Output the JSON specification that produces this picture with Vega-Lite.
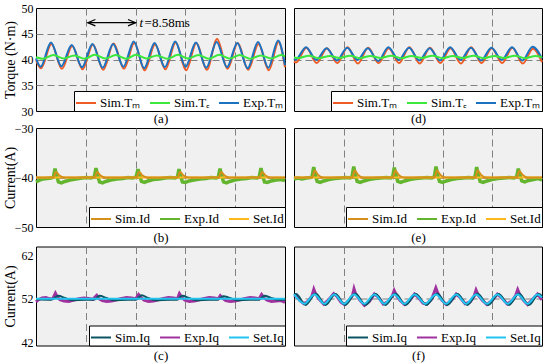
{
"$schema": "https://vega.github.io/schema/vega-lite/v6.json",
"background": "white",
"padding": {"left": 2, "top": 1, "right": 2, "bottom": 0},
"config": {
 "font": "Liberation Serif",
 "view": {"fill": "#f0f0f0", "stroke": "#000", "strokeWidth": 1},
 "axis": {"labelFont": "Liberation Serif", "labelFontSize": 12, "labelColor": "#000", "titleFont": "Liberation Serif", "titleFontWeight": "normal", "titleColor": "#000", "gridColor": "#808080", "gridDash": [7, 4], "gridWidth": 1, "gridOpacity": 1, "domain": false, "ticks": false, "labelPadding": 3},
 "legend": {"orient": "bottom-right", "direction": "horizontal", "offset": 0, "padding": 1, "strokeColor": "#000", "strokeWidth": 1, "fillColor": "white", "symbolType": "stroke", "symbolSize": 400, "symbolStrokeWidth": 2, "labelFont": "Liberation Serif", "labelFontSize": 13, "labelColor": "#000", "labelOffset": 3, "columnPadding": 5, "rowPadding": 0, "title": null}
},
"datasets": {
 "a": [
  {"s":"Sim.Tₘ","x":0,"y":39.9},{"s":"Sim.Tₘ","x":0.1,"y":38.3},{"s":"Sim.Tₘ","x":0.31,"y":43.0},{"s":"Sim.Tₘ","x":0.52,"y":38.2},{"s":"Sim.Tₘ","x":0.727,"y":42.6},{"s":"Sim.Tₘ","x":0.935,"y":38.1},{"s":"Sim.Tₘ","x":1.143,"y":42.9},{"s":"Sim.Tₘ","x":1.35,"y":38.0},{"s":"Sim.Tₘ","x":1.558,"y":43.1},{"s":"Sim.Tₘ","x":1.766,"y":38.2},{"s":"Sim.Tₘ","x":1.974,"y":43.2},{"s":"Sim.Tₘ","x":2.182,"y":37.9},{"s":"Sim.Tₘ","x":2.39,"y":42.9},{"s":"Sim.Tₘ","x":2.598,"y":38.1},{"s":"Sim.Tₘ","x":2.805,"y":43.3},{"s":"Sim.Tₘ","x":3.013,"y":37.9},{"s":"Sim.Tₘ","x":3.221,"y":43.2},{"s":"Sim.Tₘ","x":3.429,"y":38.0},{"s":"Sim.Tₘ","x":3.637,"y":44.0},{"s":"Sim.Tₘ","x":3.845,"y":38.2},{"s":"Sim.Tₘ","x":4.052,"y":43.2},{"s":"Sim.Tₘ","x":4.26,"y":38.0},{"s":"Sim.Tₘ","x":4.468,"y":43.0},{"s":"Sim.Tₘ","x":4.676,"y":37.9},{"s":"Sim.Tₘ","x":4.87,"y":43.4},{"s":"Sim.Tₘ","x":5.0,"y":38.5},
  {"s":"Exp.Tₘ","x":0,"y":40.2},{"s":"Exp.Tₘ","x":0.093,"y":38.6},{"s":"Exp.Tₘ","x":0.301,"y":43.3},{"s":"Exp.Tₘ","x":0.509,"y":38.7},{"s":"Exp.Tₘ","x":0.717,"y":42.8},{"s":"Exp.Tₘ","x":0.925,"y":38.5},{"s":"Exp.Tₘ","x":1.133,"y":43.0},{"s":"Exp.Tₘ","x":1.34,"y":38.4},{"s":"Exp.Tₘ","x":1.548,"y":43.0},{"s":"Exp.Tₘ","x":1.756,"y":38.6},{"s":"Exp.Tₘ","x":1.964,"y":43.5},{"s":"Exp.Tₘ","x":2.172,"y":38.3},{"s":"Exp.Tₘ","x":2.38,"y":43.2},{"s":"Exp.Tₘ","x":2.588,"y":38.5},{"s":"Exp.Tₘ","x":2.795,"y":43.5},{"s":"Exp.Tₘ","x":3.003,"y":38.6},{"s":"Exp.Tₘ","x":3.211,"y":43.3},{"s":"Exp.Tₘ","x":3.419,"y":38.4},{"s":"Exp.Tₘ","x":3.627,"y":43.4},{"s":"Exp.Tₘ","x":3.835,"y":38.5},{"s":"Exp.Tₘ","x":4.042,"y":43.2},{"s":"Exp.Tₘ","x":4.25,"y":38.3},{"s":"Exp.Tₘ","x":4.458,"y":43.4},{"s":"Exp.Tₘ","x":4.666,"y":38.4},{"s":"Exp.Tₘ","x":4.86,"y":43.7},{"s":"Exp.Tₘ","x":5.0,"y":38.9},
  {"s":"Sim.Tₑ","x":0,"y":40.45},{"s":"Sim.Tₑ","x":0.14,"y":40.15},{"s":"Sim.Tₑ","x":0.35,"y":40.85},{"s":"Sim.Tₑ","x":0.56,"y":40.2},{"s":"Sim.Tₑ","x":0.77,"y":40.8},{"s":"Sim.Tₑ","x":0.975,"y":40.15},{"s":"Sim.Tₑ","x":1.18,"y":40.9},{"s":"Sim.Tₑ","x":1.39,"y":40.2},{"s":"Sim.Tₑ","x":1.6,"y":40.85},{"s":"Sim.Tₑ","x":1.81,"y":40.15},{"s":"Sim.Tₑ","x":2.01,"y":40.9},{"s":"Sim.Tₑ","x":2.22,"y":40.2},{"s":"Sim.Tₑ","x":2.43,"y":40.8},{"s":"Sim.Tₑ","x":2.64,"y":40.15},{"s":"Sim.Tₑ","x":2.85,"y":40.9},{"s":"Sim.Tₑ","x":3.05,"y":40.2},{"s":"Sim.Tₑ","x":3.26,"y":40.85},{"s":"Sim.Tₑ","x":3.47,"y":40.15},{"s":"Sim.Tₑ","x":3.68,"y":40.9},{"s":"Sim.Tₑ","x":3.885,"y":40.2},{"s":"Sim.Tₑ","x":4.09,"y":40.85},{"s":"Sim.Tₑ","x":4.3,"y":40.15},{"s":"Sim.Tₑ","x":4.51,"y":40.8},{"s":"Sim.Tₑ","x":4.72,"y":40.2},{"s":"Sim.Tₑ","x":4.92,"y":40.85},{"s":"Sim.Tₑ","x":5.0,"y":40.6}
 ],
 "ann": [
  {"k":"rule","x":1.04,"x2":2.0,"y":47.15},
  {"k":"L","x":1.04,"y":47.15},
  {"k":"R","x":2.0,"y":47.15},
  {"k":"t","x":2.08,"y":47.15,"txt":"t"},
  {"k":"v","x":2.18,"y":47.15,"txt":"=8.58ms"}
 ],
 "d": [
  {"s":"Sim.Tₘ","x":0,"y":39.6},{"s":"Sim.Tₘ","x":0.04,"y":39.4},{"s":"Sim.Tₘ","x":0.25,"y":42.3},{"s":"Sim.Tₘ","x":0.457,"y":39.3},{"s":"Sim.Tₘ","x":0.665,"y":42.2},{"s":"Sim.Tₘ","x":0.873,"y":39.3},{"s":"Sim.Tₘ","x":1.081,"y":42.4},{"s":"Sim.Tₘ","x":1.288,"y":39.2},{"s":"Sim.Tₘ","x":1.496,"y":42.3},{"s":"Sim.Tₘ","x":1.704,"y":39.3},{"s":"Sim.Tₘ","x":1.911,"y":42.2},{"s":"Sim.Tₘ","x":2.119,"y":39.3},{"s":"Sim.Tₘ","x":2.327,"y":42.4},{"s":"Sim.Tₘ","x":2.534,"y":39.2},{"s":"Sim.Tₘ","x":2.742,"y":42.3},{"s":"Sim.Tₘ","x":2.95,"y":39.3},{"s":"Sim.Tₘ","x":3.157,"y":42.2},{"s":"Sim.Tₘ","x":3.365,"y":39.2},{"s":"Sim.Tₘ","x":3.573,"y":42.4},{"s":"Sim.Tₘ","x":3.78,"y":39.3},{"s":"Sim.Tₘ","x":3.988,"y":42.2},{"s":"Sim.Tₘ","x":4.196,"y":39.3},{"s":"Sim.Tₘ","x":4.403,"y":42.3},{"s":"Sim.Tₘ","x":4.611,"y":39.2},{"s":"Sim.Tₘ","x":4.818,"y":42.1},{"s":"Sim.Tₘ","x":5.0,"y":39.5},
  {"s":"Exp.Tₘ","x":0,"y":40.2},{"s":"Exp.Tₘ","x":0.034,"y":40.0},{"s":"Exp.Tₘ","x":0.242,"y":42.4},{"s":"Exp.Tₘ","x":0.449,"y":39.9},{"s":"Exp.Tₘ","x":0.657,"y":42.2},{"s":"Exp.Tₘ","x":0.865,"y":39.8},{"s":"Exp.Tₘ","x":1.073,"y":42.3},{"s":"Exp.Tₘ","x":1.28,"y":39.9},{"s":"Exp.Tₘ","x":1.488,"y":42.2},{"s":"Exp.Tₘ","x":1.696,"y":39.7},{"s":"Exp.Tₘ","x":1.903,"y":42.4},{"s":"Exp.Tₘ","x":2.111,"y":39.9},{"s":"Exp.Tₘ","x":2.319,"y":42.3},{"s":"Exp.Tₘ","x":2.526,"y":39.8},{"s":"Exp.Tₘ","x":2.734,"y":42.2},{"s":"Exp.Tₘ","x":2.942,"y":39.8},{"s":"Exp.Tₘ","x":3.149,"y":42.4},{"s":"Exp.Tₘ","x":3.357,"y":39.9},{"s":"Exp.Tₘ","x":3.565,"y":42.3},{"s":"Exp.Tₘ","x":3.772,"y":39.8},{"s":"Exp.Tₘ","x":3.98,"y":42.3},{"s":"Exp.Tₘ","x":4.188,"y":39.9},{"s":"Exp.Tₘ","x":4.395,"y":42.4},{"s":"Exp.Tₘ","x":4.603,"y":39.8},{"s":"Exp.Tₘ","x":4.81,"y":42.5},{"s":"Exp.Tₘ","x":5.0,"y":40.2},
  {"s":"Sim.Tₑ","x":0,"y":40.4},{"s":"Sim.Tₑ","x":0.1,"y":40.3},{"s":"Sim.Tₑ","x":0.3,"y":40.75},{"s":"Sim.Tₑ","x":0.5,"y":40.25},{"s":"Sim.Tₑ","x":0.72,"y":40.7},{"s":"Sim.Tₑ","x":0.92,"y":40.3},{"s":"Sim.Tₑ","x":1.13,"y":40.75},{"s":"Sim.Tₑ","x":1.33,"y":40.25},{"s":"Sim.Tₑ","x":1.54,"y":40.7},{"s":"Sim.Tₑ","x":1.75,"y":40.3},{"s":"Sim.Tₑ","x":1.96,"y":40.75},{"s":"Sim.Tₑ","x":2.17,"y":40.25},{"s":"Sim.Tₑ","x":2.37,"y":40.7},{"s":"Sim.Tₑ","x":2.58,"y":40.3},{"s":"Sim.Tₑ","x":2.79,"y":40.75},{"s":"Sim.Tₑ","x":3.0,"y":40.25},{"s":"Sim.Tₑ","x":3.2,"y":40.7},{"s":"Sim.Tₑ","x":3.41,"y":40.3},{"s":"Sim.Tₑ","x":3.62,"y":40.75},{"s":"Sim.Tₑ","x":3.83,"y":40.25},{"s":"Sim.Tₑ","x":4.04,"y":40.7},{"s":"Sim.Tₑ","x":4.24,"y":40.3},{"s":"Sim.Tₑ","x":4.45,"y":40.75},{"s":"Sim.Tₑ","x":4.66,"y":40.25},{"s":"Sim.Tₑ","x":4.87,"y":40.7},{"s":"Sim.Tₑ","x":5.0,"y":40.45}
 ],
 "b": [
  {"s":"Exp.Id","x":0,"y":-40.9},{"s":"Exp.Id","x":0.06,"y":-40.6},{"s":"Exp.Id","x":0.14,"y":-40.3},{"s":"Exp.Id","x":0.22,"y":-40.2},{"s":"Exp.Id","x":0.3,"y":-40.1},{"s":"Exp.Id","x":0.35,"y":-39.9},{"s":"Exp.Id","x":0.382,"y":-38.2},{"s":"Exp.Id","x":0.41,"y":-39.5},{"s":"Exp.Id","x":0.45,"y":-40.9},{"s":"Exp.Id","x":0.51,"y":-41.1},{"s":"Exp.Id","x":0.58,"y":-40.8},{"s":"Exp.Id","x":0.68,"y":-40.5},{"s":"Exp.Id","x":0.8,"y":-40.3},{"s":"Exp.Id","x":0.92,"y":-40.1},{"s":"Exp.Id","x":1.02,"y":-40.0},{"s":"Exp.Id","x":1.1,"y":-40.1},{"s":"Exp.Id","x":1.17,"y":-39.9},{"s":"Exp.Id","x":1.205,"y":-38.1},{"s":"Exp.Id","x":1.235,"y":-39.5},{"s":"Exp.Id","x":1.275,"y":-40.9},{"s":"Exp.Id","x":1.335,"y":-41.1},{"s":"Exp.Id","x":1.4,"y":-40.8},{"s":"Exp.Id","x":1.5,"y":-40.5},{"s":"Exp.Id","x":1.62,"y":-40.3},{"s":"Exp.Id","x":1.74,"y":-40.2},{"s":"Exp.Id","x":1.85,"y":-40.0},{"s":"Exp.Id","x":1.94,"y":-40.1},{"s":"Exp.Id","x":2.01,"y":-39.9},{"s":"Exp.Id","x":2.048,"y":-38.3},{"s":"Exp.Id","x":2.078,"y":-39.5},{"s":"Exp.Id","x":2.118,"y":-40.8},{"s":"Exp.Id","x":2.178,"y":-41.0},{"s":"Exp.Id","x":2.25,"y":-40.7},{"s":"Exp.Id","x":2.35,"y":-40.4},{"s":"Exp.Id","x":2.47,"y":-40.3},{"s":"Exp.Id","x":2.59,"y":-40.1},{"s":"Exp.Id","x":2.7,"y":-40.0},{"s":"Exp.Id","x":2.79,"y":-40.1},{"s":"Exp.Id","x":2.84,"y":-39.9},{"s":"Exp.Id","x":2.871,"y":-38.3},{"s":"Exp.Id","x":2.9,"y":-39.6},{"s":"Exp.Id","x":2.94,"y":-40.9},{"s":"Exp.Id","x":3.0,"y":-41.0},{"s":"Exp.Id","x":3.07,"y":-40.7},{"s":"Exp.Id","x":3.17,"y":-40.5},{"s":"Exp.Id","x":3.29,"y":-40.3},{"s":"Exp.Id","x":3.41,"y":-40.2},{"s":"Exp.Id","x":3.52,"y":-40.0},{"s":"Exp.Id","x":3.62,"y":-40.1},{"s":"Exp.Id","x":3.66,"y":-39.9},{"s":"Exp.Id","x":3.695,"y":-38.2},{"s":"Exp.Id","x":3.725,"y":-39.5},{"s":"Exp.Id","x":3.765,"y":-40.9},{"s":"Exp.Id","x":3.825,"y":-41.1},{"s":"Exp.Id","x":3.89,"y":-40.8},{"s":"Exp.Id","x":3.99,"y":-40.5},{"s":"Exp.Id","x":4.11,"y":-40.3},{"s":"Exp.Id","x":4.23,"y":-40.2},{"s":"Exp.Id","x":4.34,"y":-40.0},{"s":"Exp.Id","x":4.44,"y":-40.1},{"s":"Exp.Id","x":4.48,"y":-39.9},{"s":"Exp.Id","x":4.518,"y":-38.1},{"s":"Exp.Id","x":4.548,"y":-39.5},{"s":"Exp.Id","x":4.588,"y":-40.9},{"s":"Exp.Id","x":4.648,"y":-41.0},{"s":"Exp.Id","x":4.72,"y":-40.7},{"s":"Exp.Id","x":4.82,"y":-40.5},{"s":"Exp.Id","x":4.92,"y":-40.4},{"s":"Exp.Id","x":5.0,"y":-40.6},
  {"s":"Set.Id","x":0,"y":-40},{"s":"Set.Id","x":5,"y":-40},
  {"s":"Sim.Id","x":0,"y":-40.0},{"s":"Sim.Id","x":0.35,"y":-40.0},{"s":"Sim.Id","x":0.4,"y":-38.9},{"s":"Sim.Id","x":0.47,"y":-39.6},{"s":"Sim.Id","x":0.57,"y":-40.0},{"s":"Sim.Id","x":1.175,"y":-40.0},{"s":"Sim.Id","x":1.225,"y":-38.9},{"s":"Sim.Id","x":1.295,"y":-39.6},{"s":"Sim.Id","x":1.395,"y":-40.0},{"s":"Sim.Id","x":2.018,"y":-40.0},{"s":"Sim.Id","x":2.068,"y":-38.9},{"s":"Sim.Id","x":2.138,"y":-39.6},{"s":"Sim.Id","x":2.238,"y":-40.0},{"s":"Sim.Id","x":2.841,"y":-40.0},{"s":"Sim.Id","x":2.891,"y":-38.9},{"s":"Sim.Id","x":2.961,"y":-39.6},{"s":"Sim.Id","x":3.061,"y":-40.0},{"s":"Sim.Id","x":3.665,"y":-40.0},{"s":"Sim.Id","x":3.715,"y":-38.9},{"s":"Sim.Id","x":3.785,"y":-39.6},{"s":"Sim.Id","x":3.885,"y":-40.0},{"s":"Sim.Id","x":4.488,"y":-40.0},{"s":"Sim.Id","x":4.538,"y":-38.9},{"s":"Sim.Id","x":4.608,"y":-39.6},{"s":"Sim.Id","x":4.708,"y":-40.0},{"s":"Sim.Id","x":5.0,"y":-40.0}
 ],
 "e": [
  {"s":"Exp.Id","x":0,"y":-40.3},{"s":"Exp.Id","x":0.08,"y":-40.1},{"s":"Exp.Id","x":0.16,"y":-40.3},{"s":"Exp.Id","x":0.25,"y":-40.1},{"s":"Exp.Id","x":0.33,"y":-40.0},{"s":"Exp.Id","x":0.365,"y":-39.8},{"s":"Exp.Id","x":0.397,"y":-37.9},{"s":"Exp.Id","x":0.427,"y":-39.4},{"s":"Exp.Id","x":0.467,"y":-40.8},{"s":"Exp.Id","x":0.527,"y":-41.0},{"s":"Exp.Id","x":0.6,"y":-40.7},{"s":"Exp.Id","x":0.7,"y":-40.4},{"s":"Exp.Id","x":0.82,"y":-40.2},{"s":"Exp.Id","x":0.94,"y":-40.1},{"s":"Exp.Id","x":1.05,"y":-40.0},{"s":"Exp.Id","x":1.13,"y":-40.1},{"s":"Exp.Id","x":1.17,"y":-39.8},{"s":"Exp.Id","x":1.204,"y":-37.8},{"s":"Exp.Id","x":1.234,"y":-39.4},{"s":"Exp.Id","x":1.274,"y":-40.8},{"s":"Exp.Id","x":1.334,"y":-41.0},{"s":"Exp.Id","x":1.41,"y":-40.7},{"s":"Exp.Id","x":1.51,"y":-40.4},{"s":"Exp.Id","x":1.63,"y":-40.2},{"s":"Exp.Id","x":1.75,"y":-40.1},{"s":"Exp.Id","x":1.86,"y":-40.0},{"s":"Exp.Id","x":1.95,"y":-40.1},{"s":"Exp.Id","x":1.99,"y":-39.8},{"s":"Exp.Id","x":2.022,"y":-38.0},{"s":"Exp.Id","x":2.052,"y":-39.4},{"s":"Exp.Id","x":2.092,"y":-40.8},{"s":"Exp.Id","x":2.152,"y":-41.0},{"s":"Exp.Id","x":2.23,"y":-40.7},{"s":"Exp.Id","x":2.33,"y":-40.4},{"s":"Exp.Id","x":2.45,"y":-40.2},{"s":"Exp.Id","x":2.57,"y":-40.1},{"s":"Exp.Id","x":2.68,"y":-40.0},{"s":"Exp.Id","x":2.78,"y":-40.1},{"s":"Exp.Id","x":2.83,"y":-39.8},{"s":"Exp.Id","x":2.863,"y":-37.8},{"s":"Exp.Id","x":2.893,"y":-39.4},{"s":"Exp.Id","x":2.933,"y":-40.8},{"s":"Exp.Id","x":2.993,"y":-41.0},{"s":"Exp.Id","x":3.07,"y":-40.7},{"s":"Exp.Id","x":3.17,"y":-40.4},{"s":"Exp.Id","x":3.29,"y":-40.2},{"s":"Exp.Id","x":3.41,"y":-40.1},{"s":"Exp.Id","x":3.52,"y":-40.0},{"s":"Exp.Id","x":3.61,"y":-40.1},{"s":"Exp.Id","x":3.65,"y":-39.8},{"s":"Exp.Id","x":3.683,"y":-37.9},{"s":"Exp.Id","x":3.713,"y":-39.4},{"s":"Exp.Id","x":3.753,"y":-40.8},{"s":"Exp.Id","x":3.813,"y":-41.0},{"s":"Exp.Id","x":3.89,"y":-40.7},{"s":"Exp.Id","x":3.99,"y":-40.4},{"s":"Exp.Id","x":4.11,"y":-40.2},{"s":"Exp.Id","x":4.23,"y":-40.1},{"s":"Exp.Id","x":4.34,"y":-40.0},{"s":"Exp.Id","x":4.44,"y":-40.1},{"s":"Exp.Id","x":4.49,"y":-39.8},{"s":"Exp.Id","x":4.522,"y":-38.2},{"s":"Exp.Id","x":4.552,"y":-39.4},{"s":"Exp.Id","x":4.592,"y":-40.7},{"s":"Exp.Id","x":4.652,"y":-40.9},{"s":"Exp.Id","x":4.73,"y":-40.6},{"s":"Exp.Id","x":4.83,"y":-40.4},{"s":"Exp.Id","x":4.92,"y":-40.2},{"s":"Exp.Id","x":5.0,"y":-40.5},
  {"s":"Set.Id","x":0,"y":-40},{"s":"Set.Id","x":5,"y":-40},
  {"s":"Sim.Id","x":0,"y":-40.0},{"s":"Sim.Id","x":0.367,"y":-40.0},{"s":"Sim.Id","x":0.417,"y":-38.6},{"s":"Sim.Id","x":0.487,"y":-39.5},{"s":"Sim.Id","x":0.587,"y":-40.0},{"s":"Sim.Id","x":1.174,"y":-40.0},{"s":"Sim.Id","x":1.224,"y":-38.6},{"s":"Sim.Id","x":1.294,"y":-39.5},{"s":"Sim.Id","x":1.394,"y":-40.0},{"s":"Sim.Id","x":1.992,"y":-40.0},{"s":"Sim.Id","x":2.042,"y":-38.6},{"s":"Sim.Id","x":2.112,"y":-39.5},{"s":"Sim.Id","x":2.212,"y":-40.0},{"s":"Sim.Id","x":2.833,"y":-40.0},{"s":"Sim.Id","x":2.883,"y":-38.6},{"s":"Sim.Id","x":2.953,"y":-39.5},{"s":"Sim.Id","x":3.053,"y":-40.0},{"s":"Sim.Id","x":3.653,"y":-40.0},{"s":"Sim.Id","x":3.703,"y":-38.6},{"s":"Sim.Id","x":3.773,"y":-39.5},{"s":"Sim.Id","x":3.873,"y":-40.0},{"s":"Sim.Id","x":4.492,"y":-40.0},{"s":"Sim.Id","x":4.542,"y":-38.7},{"s":"Sim.Id","x":4.612,"y":-39.5},{"s":"Sim.Id","x":4.712,"y":-40.0},{"s":"Sim.Id","x":5.0,"y":-40.0}
 ],
 "c": [
  {"s":"Exp.Iq","x":0,"y":51.3},{"s":"Exp.Iq","x":0.05,"y":51.8},{"s":"Exp.Iq","x":0.12,"y":52.2},{"s":"Exp.Iq","x":0.2,"y":52.3},{"s":"Exp.Iq","x":0.28,"y":52.0},{"s":"Exp.Iq","x":0.34,"y":52.1},{"s":"Exp.Iq","x":0.39,"y":53.3},{"s":"Exp.Iq","x":0.43,"y":52.4},{"s":"Exp.Iq","x":0.48,"y":51.8},{"s":"Exp.Iq","x":0.56,"y":51.5},{"s":"Exp.Iq","x":0.66,"y":51.4},{"s":"Exp.Iq","x":0.76,"y":51.7},{"s":"Exp.Iq","x":0.86,"y":52.0},{"s":"Exp.Iq","x":0.96,"y":52.2},{"s":"Exp.Iq","x":1.06,"y":52.1},{"s":"Exp.Iq","x":1.14,"y":51.9},{"s":"Exp.Iq","x":1.22,"y":52.8},{"s":"Exp.Iq","x":1.27,"y":52.0},{"s":"Exp.Iq","x":1.33,"y":51.6},{"s":"Exp.Iq","x":1.42,"y":51.4},{"s":"Exp.Iq","x":1.52,"y":51.5},{"s":"Exp.Iq","x":1.62,"y":51.8},{"s":"Exp.Iq","x":1.72,"y":52.1},{"s":"Exp.Iq","x":1.82,"y":52.3},{"s":"Exp.Iq","x":1.92,"y":52.2},{"s":"Exp.Iq","x":2.0,"y":52.0},{"s":"Exp.Iq","x":2.06,"y":53.0},{"s":"Exp.Iq","x":2.11,"y":52.3},{"s":"Exp.Iq","x":2.17,"y":51.7},{"s":"Exp.Iq","x":2.26,"y":51.4},{"s":"Exp.Iq","x":2.36,"y":51.5},{"s":"Exp.Iq","x":2.46,"y":51.8},{"s":"Exp.Iq","x":2.56,"y":52.1},{"s":"Exp.Iq","x":2.66,"y":52.3},{"s":"Exp.Iq","x":2.76,"y":52.2},{"s":"Exp.Iq","x":2.84,"y":52.0},{"s":"Exp.Iq","x":2.88,"y":53.2},{"s":"Exp.Iq","x":2.93,"y":52.3},{"s":"Exp.Iq","x":2.99,"y":51.7},{"s":"Exp.Iq","x":3.08,"y":51.4},{"s":"Exp.Iq","x":3.18,"y":51.5},{"s":"Exp.Iq","x":3.28,"y":51.8},{"s":"Exp.Iq","x":3.38,"y":52.1},{"s":"Exp.Iq","x":3.48,"y":52.3},{"s":"Exp.Iq","x":3.58,"y":52.2},{"s":"Exp.Iq","x":3.66,"y":52.0},{"s":"Exp.Iq","x":3.7,"y":52.7},{"s":"Exp.Iq","x":3.75,"y":52.1},{"s":"Exp.Iq","x":3.81,"y":51.6},{"s":"Exp.Iq","x":3.9,"y":51.4},{"s":"Exp.Iq","x":4.0,"y":51.5},{"s":"Exp.Iq","x":4.1,"y":51.8},{"s":"Exp.Iq","x":4.2,"y":52.1},{"s":"Exp.Iq","x":4.3,"y":52.3},{"s":"Exp.Iq","x":4.4,"y":52.2},{"s":"Exp.Iq","x":4.48,"y":52.0},{"s":"Exp.Iq","x":4.53,"y":53.0},{"s":"Exp.Iq","x":4.58,"y":52.2},{"s":"Exp.Iq","x":4.64,"y":51.7},{"s":"Exp.Iq","x":4.73,"y":51.4},{"s":"Exp.Iq","x":4.83,"y":51.5},{"s":"Exp.Iq","x":4.92,"y":51.6},{"s":"Exp.Iq","x":5.0,"y":51.2},
  {"s":"Sim.Iq","x":0,"y":51.9},{"s":"Sim.Iq","x":0.3,"y":51.8},{"s":"Sim.Iq","x":0.45,"y":52.7},{"s":"Sim.Iq","x":0.58,"y":52.2},{"s":"Sim.Iq","x":0.72,"y":51.7},{"s":"Sim.Iq","x":1.0,"y":51.8},{"s":"Sim.Iq","x":1.16,"y":51.8},{"s":"Sim.Iq","x":1.28,"y":52.7},{"s":"Sim.Iq","x":1.41,"y":52.2},{"s":"Sim.Iq","x":1.55,"y":51.7},{"s":"Sim.Iq","x":1.85,"y":51.8},{"s":"Sim.Iq","x":2.0,"y":51.8},{"s":"Sim.Iq","x":2.12,"y":52.8},{"s":"Sim.Iq","x":2.25,"y":52.2},{"s":"Sim.Iq","x":2.39,"y":51.7},{"s":"Sim.Iq","x":2.7,"y":51.8},{"s":"Sim.Iq","x":2.82,"y":51.8},{"s":"Sim.Iq","x":2.94,"y":52.7},{"s":"Sim.Iq","x":3.07,"y":52.2},{"s":"Sim.Iq","x":3.21,"y":51.7},{"s":"Sim.Iq","x":3.5,"y":51.8},{"s":"Sim.Iq","x":3.64,"y":51.8},{"s":"Sim.Iq","x":3.76,"y":52.6},{"s":"Sim.Iq","x":3.89,"y":52.2},{"s":"Sim.Iq","x":4.03,"y":51.7},{"s":"Sim.Iq","x":4.3,"y":51.8},{"s":"Sim.Iq","x":4.47,"y":51.8},{"s":"Sim.Iq","x":4.59,"y":52.7},{"s":"Sim.Iq","x":4.72,"y":52.2},{"s":"Sim.Iq","x":4.86,"y":51.8},{"s":"Sim.Iq","x":5.0,"y":51.8},
  {"s":"Set.Iq","x":0,"y":52},{"s":"Set.Iq","x":5,"y":52}
 ],
 "f": [
  {"s":"Exp.Iq","x":0,"y":52.8},{"s":"Exp.Iq","x":0.05,"y":52.6},{"s":"Exp.Iq","x":0.12,"y":51.6},{"s":"Exp.Iq","x":0.2,"y":50.9},{"s":"Exp.Iq","x":0.28,"y":51.4},{"s":"Exp.Iq","x":0.36,"y":52.6},{"s":"Exp.Iq","x":0.4,"y":54.2},{"s":"Exp.Iq","x":0.43,"y":53.3},{"s":"Exp.Iq","x":0.5,"y":52.0},{"s":"Exp.Iq","x":0.6,"y":50.8},{"s":"Exp.Iq","x":0.7,"y":51.8},{"s":"Exp.Iq","x":0.8,"y":53.2},{"s":"Exp.Iq","x":0.86,"y":52.6},{"s":"Exp.Iq","x":0.95,"y":51.2},{"s":"Exp.Iq","x":1.02,"y":50.7},{"s":"Exp.Iq","x":1.1,"y":51.6},{"s":"Exp.Iq","x":1.18,"y":52.8},{"s":"Exp.Iq","x":1.21,"y":54.3},{"s":"Exp.Iq","x":1.24,"y":53.2},{"s":"Exp.Iq","x":1.32,"y":51.8},{"s":"Exp.Iq","x":1.42,"y":50.5},{"s":"Exp.Iq","x":1.52,"y":51.4},{"s":"Exp.Iq","x":1.62,"y":53.1},{"s":"Exp.Iq","x":1.7,"y":52.4},{"s":"Exp.Iq","x":1.8,"y":50.8},{"s":"Exp.Iq","x":1.9,"y":51.4},{"s":"Exp.Iq","x":1.98,"y":52.6},{"s":"Exp.Iq","x":2.02,"y":53.9},{"s":"Exp.Iq","x":2.06,"y":52.9},{"s":"Exp.Iq","x":2.14,"y":51.6},{"s":"Exp.Iq","x":2.23,"y":50.7},{"s":"Exp.Iq","x":2.33,"y":51.6},{"s":"Exp.Iq","x":2.43,"y":53.1},{"s":"Exp.Iq","x":2.5,"y":52.4},{"s":"Exp.Iq","x":2.6,"y":51.0},{"s":"Exp.Iq","x":2.68,"y":50.8},{"s":"Exp.Iq","x":2.78,"y":52.0},{"s":"Exp.Iq","x":2.86,"y":54.5},{"s":"Exp.Iq","x":2.9,"y":53.3},{"s":"Exp.Iq","x":2.98,"y":51.7},{"s":"Exp.Iq","x":3.07,"y":50.7},{"s":"Exp.Iq","x":3.17,"y":51.6},{"s":"Exp.Iq","x":3.27,"y":53.1},{"s":"Exp.Iq","x":3.34,"y":52.4},{"s":"Exp.Iq","x":3.45,"y":50.9},{"s":"Exp.Iq","x":3.55,"y":51.3},{"s":"Exp.Iq","x":3.63,"y":52.6},{"s":"Exp.Iq","x":3.67,"y":54.0},{"s":"Exp.Iq","x":3.71,"y":52.9},{"s":"Exp.Iq","x":3.8,"y":51.6},{"s":"Exp.Iq","x":3.89,"y":50.7},{"s":"Exp.Iq","x":3.99,"y":51.6},{"s":"Exp.Iq","x":4.1,"y":53.1},{"s":"Exp.Iq","x":4.17,"y":52.4},{"s":"Exp.Iq","x":4.3,"y":50.8},{"s":"Exp.Iq","x":4.4,"y":51.6},{"s":"Exp.Iq","x":4.47,"y":52.8},{"s":"Exp.Iq","x":4.51,"y":54.1},{"s":"Exp.Iq","x":4.55,"y":53.0},{"s":"Exp.Iq","x":4.63,"y":51.6},{"s":"Exp.Iq","x":4.71,"y":50.7},{"s":"Exp.Iq","x":4.8,"y":51.8},{"s":"Exp.Iq","x":4.91,"y":53.1},{"s":"Exp.Iq","x":5.0,"y":51.8},
  {"s":"Sim.Iq","x":0,"y":52.9},{"s":"Sim.Iq","x":0.04,"y":53.1},{"s":"Sim.Iq","x":0.235,"y":50.6},{"s":"Sim.Iq","x":0.435,"y":53.2},{"s":"Sim.Iq","x":0.635,"y":50.6},{"s":"Sim.Iq","x":0.835,"y":53.1},{"s":"Sim.Iq","x":1.035,"y":50.6},{"s":"Sim.Iq","x":1.235,"y":53.2},{"s":"Sim.Iq","x":1.44,"y":50.6},{"s":"Sim.Iq","x":1.645,"y":53.1},{"s":"Sim.Iq","x":1.845,"y":50.6},{"s":"Sim.Iq","x":2.045,"y":53.2},{"s":"Sim.Iq","x":2.25,"y":50.6},{"s":"Sim.Iq","x":2.455,"y":53.1},{"s":"Sim.Iq","x":2.67,"y":50.6},{"s":"Sim.Iq","x":2.885,"y":53.2},{"s":"Sim.Iq","x":3.09,"y":50.6},{"s":"Sim.Iq","x":3.295,"y":53.1},{"s":"Sim.Iq","x":3.495,"y":50.6},{"s":"Sim.Iq","x":3.695,"y":53.2},{"s":"Sim.Iq","x":3.915,"y":50.6},{"s":"Sim.Iq","x":4.125,"y":53.1},{"s":"Sim.Iq","x":4.335,"y":50.6},{"s":"Sim.Iq","x":4.535,"y":53.2},{"s":"Sim.Iq","x":4.735,"y":50.6},{"s":"Sim.Iq","x":4.935,"y":53.1},{"s":"Sim.Iq","x":5.0,"y":52.6},
  {"s":"Set.Iq","x":0,"y":53.0},{"s":"Set.Iq","x":0.21,"y":50.9},{"s":"Set.Iq","x":0.41,"y":53.0},{"s":"Set.Iq","x":0.61,"y":50.9},{"s":"Set.Iq","x":0.81,"y":53.0},{"s":"Set.Iq","x":1.01,"y":50.9},{"s":"Set.Iq","x":1.21,"y":53.0},{"s":"Set.Iq","x":1.415,"y":50.9},{"s":"Set.Iq","x":1.62,"y":53.0},{"s":"Set.Iq","x":1.82,"y":50.9},{"s":"Set.Iq","x":2.02,"y":53.0},{"s":"Set.Iq","x":2.225,"y":50.9},{"s":"Set.Iq","x":2.43,"y":53.0},{"s":"Set.Iq","x":2.645,"y":50.9},{"s":"Set.Iq","x":2.86,"y":53.0},{"s":"Set.Iq","x":3.065,"y":50.9},{"s":"Set.Iq","x":3.27,"y":53.0},{"s":"Set.Iq","x":3.47,"y":50.9},{"s":"Set.Iq","x":3.67,"y":53.0},{"s":"Set.Iq","x":3.89,"y":50.9},{"s":"Set.Iq","x":4.1,"y":53.0},{"s":"Set.Iq","x":4.31,"y":50.9},{"s":"Set.Iq","x":4.51,"y":53.0},{"s":"Set.Iq","x":4.71,"y":50.9},{"s":"Set.Iq","x":4.91,"y":53.0},{"s":"Set.Iq","x":5.0,"y":52.3}
 ]
},
"spacing": -5,
"resolve": {"scale": {"color": "independent"}, "legend": {"color": "independent"}},
"vconcat": [
 {"hconcat": [
  {"width": 249, "height": 103,
   "encoding": {
    "x": {"field": "x", "type": "quantitative", "scale": {"domain": [0, 5], "nice": false, "zero": false}, "axis": {"values": [1, 2, 3, 4], "labels": false, "grid": true, "title": "(a)", "titleFontSize": 13, "titlePadding": 1.5}},
    "y": {"field": "y", "type": "quantitative", "scale": {"domain": [30, 50], "nice": false, "zero": false}, "axis": {"values": [30, 35, 40, 45, 50], "grid": true, "gridOpacity": {"condition": {"test": "datum.value == 30 || datum.value == 50", "value": 0}, "value": 1}, "title": "Torque (N·m)", "titleFontSize": 14, "titlePadding": 2, "minExtent": 17, "maxExtent": 17}}
   },
   "layer": [
    {"data": {"name": "a"}, "transform": [{"filter": "datum.s == 'Sim.Tₘ'"}], "mark": {"type": "line", "interpolate": "monotone", "strokeWidth": 2}, "encoding": {"color": {"field": "s", "type": "nominal", "scale": {"domain": ["Sim.Tₘ", "Sim.Tₑ", "Exp.Tₘ"], "range": ["#ef5b25", "#3ce83c", "#1a72c0"]}, "legend": {"title": null}}}},
    {"data": {"name": "a"}, "transform": [{"filter": "datum.s == 'Exp.Tₘ'"}], "mark": {"type": "line", "interpolate": "monotone", "strokeWidth": 2}, "encoding": {"color": {"field": "s", "type": "nominal", "scale": {"domain": ["Sim.Tₘ", "Sim.Tₑ", "Exp.Tₘ"], "range": ["#ef5b25", "#3ce83c", "#1a72c0"]}, "legend": {"title": null}}}},
    {"data": {"name": "a"}, "transform": [{"filter": "datum.s == 'Sim.Tₑ'"}], "mark": {"type": "line", "interpolate": "monotone", "strokeWidth": 2}, "encoding": {"color": {"field": "s", "type": "nominal", "scale": {"domain": ["Sim.Tₘ", "Sim.Tₑ", "Exp.Tₘ"], "range": ["#ef5b25", "#3ce83c", "#1a72c0"]}, "legend": {"title": null}}}},
    {"data": {"name": "ann"}, "transform": [{"filter": "datum.k == 'rule'"}], "mark": {"type": "rule", "color": "#000", "strokeWidth": 1.2}, "encoding": {"x2": {"field": "x2"}}},
    {"data": {"name": "ann"}, "transform": [{"filter": "datum.k == 'L'"}], "mark": {"type": "point", "shape": "M2.4,-1L0,0L2.4,1", "size": 40, "filled": false, "stroke": "#000", "strokeWidth": 1.2, "opacity": 1}, "encoding": {}},
    {"data": {"name": "ann"}, "transform": [{"filter": "datum.k == 'R'"}], "mark": {"type": "point", "shape": "M-2.4,-1L0,0L-2.4,1", "size": 40, "filled": false, "stroke": "#000", "strokeWidth": 1.2, "opacity": 1}, "encoding": {}},
    {"data": {"name": "ann"}, "transform": [{"filter": "datum.k == 't'"}], "mark": {"type": "text", "align": "left", "baseline": "middle", "font": "Liberation Serif", "fontSize": 13, "fontStyle": "italic", "color": "#000"}, "encoding": {"text": {"field": "txt"}}},
    {"data": {"name": "ann"}, "transform": [{"filter": "datum.k == 'v'"}], "mark": {"type": "text", "align": "left", "baseline": "middle", "font": "Liberation Serif", "fontSize": 13, "color": "#000"}, "encoding": {"text": {"field": "txt"}}}
   ]
  },
  {"width": 248, "height": 103,
   "data": {"name": "d"},
   "encoding": {
    "x": {"field": "x", "type": "quantitative", "scale": {"domain": [0, 5], "nice": false, "zero": false}, "axis": {"values": [1, 2, 3, 4], "labels": false, "grid": true, "title": "(d)", "titleFontSize": 13, "titlePadding": 1.5}},
    "y": {"field": "y", "type": "quantitative", "scale": {"domain": [30, 50], "nice": false, "zero": false}, "axis": {"values": [35, 40, 45], "labels": false, "grid": true, "title": null}},
    "color": {"field": "s", "type": "nominal", "scale": {"domain": ["Sim.Tₘ", "Sim.Tₑ", "Exp.Tₘ"], "range": ["#ef5b25", "#3ce83c", "#1a72c0"]}, "legend": {"title": null}}
   },
   "layer": [
    {"transform": [{"filter": "datum.s == 'Sim.Tₘ'"}], "mark": {"type": "line", "interpolate": "monotone", "strokeWidth": 2}},
    {"transform": [{"filter": "datum.s == 'Exp.Tₘ'"}], "mark": {"type": "line", "interpolate": "monotone", "strokeWidth": 2}},
    {"transform": [{"filter": "datum.s == 'Sim.Tₑ'"}], "mark": {"type": "line", "interpolate": "monotone", "strokeWidth": 2}}
   ]
  }
 ], "spacing": 9, "bounds": "flush", "resolve": {"scale": {"color": "independent"}, "legend": {"color": "independent"}}},
 {"vconcat": [
  {"hconcat": [
   {"width": 249, "height": 99,
    "data": {"name": "b"},
    "encoding": {
     "x": {"field": "x", "type": "quantitative", "scale": {"domain": [0, 5], "nice": false, "zero": false}, "axis": {"values": [1, 2, 3, 4], "labels": false, "grid": true, "title": "(b)", "titleFontSize": 13, "titlePadding": 4.5}},
     "y": {"field": "y", "type": "quantitative", "scale": {"domain": [-50, -30], "nice": false, "zero": false}, "axis": {"values": [-50, -40, -30], "grid": true, "gridOpacity": {"condition": {"test": "datum.value == -50 || datum.value == -30", "value": 0}, "value": 1}, "title": "Current(A)", "titleFontSize": 14, "titlePadding": 2, "minExtent": 17, "maxExtent": 17}},
     "color": {"field": "s", "type": "nominal", "scale": {"domain": ["Sim.Id", "Exp.Id", "Set.Id"], "range": ["#d68f1a", "#62b52c", "#ffb81c"]}, "legend": {"title": null}}
    },
    "layer": [
     {"transform": [{"filter": "datum.s == 'Exp.Id'"}], "mark": {"type": "line", "strokeWidth": 3.5}},
     {"transform": [{"filter": "datum.s == 'Set.Id'"}], "mark": {"type": "line", "strokeWidth": 2}},
     {"transform": [{"filter": "datum.s == 'Sim.Id'"}], "mark": {"type": "line", "interpolate": "monotone", "strokeWidth": 2}}
    ]
   },
   {"width": 248, "height": 99,
    "data": {"name": "e"},
    "encoding": {
     "x": {"field": "x", "type": "quantitative", "scale": {"domain": [0, 5], "nice": false, "zero": false}, "axis": {"values": [1, 2, 3, 4], "labels": false, "grid": true, "title": "(e)", "titleFontSize": 13, "titlePadding": 4.5}},
     "y": {"field": "y", "type": "quantitative", "scale": {"domain": [-50, -30], "nice": false, "zero": false}, "axis": {"values": [-40], "labels": false, "grid": true, "title": null}},
     "color": {"field": "s", "type": "nominal", "scale": {"domain": ["Sim.Id", "Exp.Id", "Set.Id"], "range": ["#d68f1a", "#62b52c", "#ffb81c"]}, "legend": {"title": null}}
    },
    "layer": [
     {"transform": [{"filter": "datum.s == 'Exp.Id'"}], "mark": {"type": "line", "strokeWidth": 3.5}},
     {"transform": [{"filter": "datum.s == 'Set.Id'"}], "mark": {"type": "line", "strokeWidth": 2}},
     {"transform": [{"filter": "datum.s == 'Sim.Id'"}], "mark": {"type": "line", "interpolate": "monotone", "strokeWidth": 2}}
    ]
   }
  ], "spacing": 9, "bounds": "flush", "resolve": {"scale": {"color": "independent"}, "legend": {"color": "independent"}}},
  {"hconcat": [
   {"width": 249, "height": 99,
    "data": {"name": "c"},
    "encoding": {
     "x": {"field": "x", "type": "quantitative", "scale": {"domain": [0, 5], "nice": false, "zero": false}, "axis": {"values": [1, 2, 3, 4], "labels": false, "grid": true, "title": "(c)", "titleFontSize": 13, "titlePadding": 3.5}},
     "y": {"field": "y", "type": "quantitative", "scale": {"domain": [41.3, 64], "nice": false, "zero": false}, "axis": {"values": [42, 52, 62], "grid": true, "gridOpacity": {"condition": {"test": "datum.value != 52", "value": 0}, "value": 1}, "title": "Current(A)", "titleFontSize": 14, "titlePadding": 2, "minExtent": 17, "maxExtent": 17}},
     "color": {"field": "s", "type": "nominal", "scale": {"domain": ["Sim.Iq", "Exp.Iq", "Set.Iq"], "range": ["#0b5563", "#a0329f", "#22c4f0"]}, "legend": {"title": null}}
    },
    "layer": [
     {"transform": [{"filter": "datum.s == 'Exp.Iq'"}], "mark": {"type": "line", "strokeWidth": 3}},
     {"transform": [{"filter": "datum.s == 'Sim.Iq'"}], "mark": {"type": "line", "interpolate": "monotone", "strokeWidth": 2}},
     {"transform": [{"filter": "datum.s == 'Set.Iq'"}], "mark": {"type": "line", "strokeWidth": 2}}
    ]
   },
   {"width": 248, "height": 99,
    "data": {"name": "f"},
    "encoding": {
     "x": {"field": "x", "type": "quantitative", "scale": {"domain": [0, 5], "nice": false, "zero": false}, "axis": {"values": [1, 2, 3, 4], "labels": false, "grid": true, "title": "(f)", "titleFontSize": 13, "titlePadding": 3.5}},
     "y": {"field": "y", "type": "quantitative", "scale": {"domain": [41.3, 64], "nice": false, "zero": false}, "axis": {"values": [52], "labels": false, "grid": true, "title": null}},
     "color": {"field": "s", "type": "nominal", "scale": {"domain": ["Sim.Iq", "Exp.Iq", "Set.Iq"], "range": ["#0b5563", "#a0329f", "#22c4f0"]}, "legend": {"title": null}}
    },
    "layer": [
     {"transform": [{"filter": "datum.s == 'Exp.Iq'"}], "mark": {"type": "line", "strokeWidth": 3}},
     {"transform": [{"filter": "datum.s == 'Sim.Iq'"}], "mark": {"type": "line", "interpolate": "monotone", "strokeWidth": 2}},
     {"transform": [{"filter": "datum.s == 'Set.Iq'"}], "mark": {"type": "line", "interpolate": "monotone", "strokeWidth": 2}}
    ]
   }
  ], "spacing": 9, "bounds": "flush", "resolve": {"scale": {"color": "independent"}, "legend": {"color": "independent"}}}
 ], "spacing": 0.5, "resolve": {"scale": {"color": "independent"}, "legend": {"color": "independent"}}}
]
}
